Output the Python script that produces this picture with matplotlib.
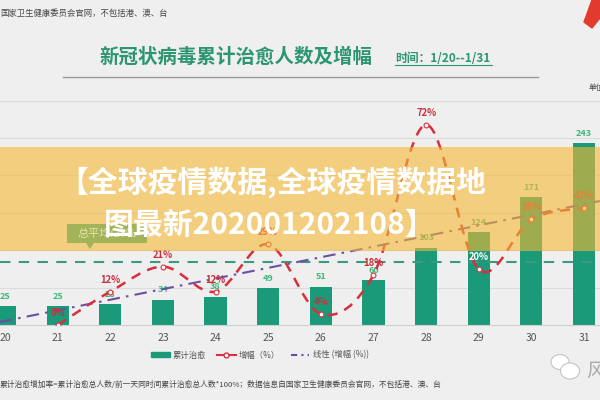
import numpy as np
import matplotlib
matplotlib.use('Agg')
import matplotlib.pyplot as plt
from matplotlib.path import Path
from matplotlib.patches import PathPatch, Rectangle, Polygon, Ellipse
from matplotlib.lines import Line2D

plt.rcParams['font.family'] = ['Noto Sans CJK SC', 'DejaVu Sans']

days = ['20', '21', '22', '23', '24', '25', '26', '27', '28', '29', '30', '31']
cured = [25, 25, 28, 34, 38, 49, 51, 60, 103, 124, 171, 243]
# growth in %, first day has no value
growth = [None, 0, 12, 21, 12, 29, 4, 18, 72, 20, 38, 42]
avg_line = 22.6
avg_label = '总平均:27%'

title = '新冠状病毒累计治愈人数及增幅'
period = '时间：1/20--1/31'
banner = ['【全球疫情数据,全球疫情数据地', '图最新202001202108】']
note = '累计治愈增加率=累计治愈总人数/前一天同时间累计治愈总人数*100%；数据信息自国家卫生健康委员会官网，不包括港、澳、台'
header = '国家卫生健康委员会官网，不包括港、澳、台'

bg = '#EFEFF0'
bar_c = '#1B9A7A'
red = '#D6303C'
purple = '#6B4FA0'
green_txt = '#2B9670'

W, H = 600, 400
fig = plt.figure(figsize=(6, 4), dpi=100, facecolor=bg)

def fx(px):
    return px / W

def fy(py):
    return 1 - py / H

ax = fig.add_axes([0, fy(325), 1, (325 - 100) / H])
ax.set_facecolor(bg)
x = np.arange(len(days))
ax.set_xlim(-0.095, 11.304)
ax.set_ylim(0, 301)
ax.set_yticks(np.arange(50, 301, 50))
ax.grid(axis='y', color='#DCDCDC', lw=0.8)
ax.set_axisbelow(True)
for s in ['top', 'left', 'right']:
    ax.spines[s].set_visible(False)
ax.spines['bottom'].set_color('#CFCFCF')
ax.set_xticks(x)
ax.set_xticklabels(days, fontsize=7.5, color='#555555')
ax.tick_params(axis='x', length=0, pad=6)
ax.tick_params(axis='y', length=0, labelleft=False)

bars = ax.bar(x, cured, width=0.42, color=bar_c, zorder=2)
for xi, v in zip(x, cured):
    ax.annotate(str(v), (xi, v), xytext=(0, 4), textcoords='offset points',
                ha='center', va='bottom', fontsize=6.5, color='#3CB878',
                fontweight='bold', zorder=5)

ax2 = ax.twinx()
ax2.set_ylim(0, 301 * 0.75 / 2.79)
ax2.axis('off')

# average reference line
ax2.axhline(avg_line, color='#3A9A80', lw=1.5, dashes=(5, 4), zorder=3)

# trend line of growth
gx = np.array([i for i, g in enumerate(growth) if g is not None])
gy = np.array([g for g in growth if g is not None], dtype=float)
k, b = np.polyfit(gx, gy, 1)
tx = np.array([-0.1, 11.3])
ax2.plot(tx, k * tx + b, color=purple, lw=1.5, dashes=(6, 3, 1.2, 3), zorder=3)

# smoothed growth curve (Catmull-Rom as Bezier path)
pts = np.column_stack([gx, gy])
verts = [pts[0]]
codes = [Path.MOVETO]
for i in range(len(pts) - 1):
    p0 = pts[i - 1] if i > 0 else pts[i]
    p1 = pts[i]
    p2 = pts[i + 1]
    p3 = pts[i + 2] if i + 2 < len(pts) else pts[i + 1]
    verts += [p1 + (p2 - p0) / 6, p2 - (p3 - p1) / 6, p2]
    codes += [Path.CURVE4] * 3
curve = PathPatch(Path(verts, codes), fill=False, edgecolor=red, lw=1.8,
                  linestyle=(0, (4, 3)), transform=ax2.transData, zorder=4)
ax2.add_patch(curve)
ax2.plot(gx, gy, 'o', ms=3.5, mfc='white', mec=red, mew=0.8, zorder=5)
for xi, g in zip(gx, gy):
    c = 'white' if xi == 9 else '#C8303C'
    ax2.annotate('%d%%' % g, (xi, g), xytext=(0, 5), textcoords='offset points',
                 ha='center', va='bottom', fontsize=6.8, color=c,
                 fontweight='bold', zorder=6)

# title block
fig.text(fx(236), fy(57), title, fontsize=14, fontweight='bold', color=green_txt,
         ha='center', va='center')
fig.text(fx(395), fy(58), period, fontsize=8.5, fontweight='bold', color=green_txt,
         ha='left', va='center')
fig.add_artist(Line2D([fx(395), fx(492)], [fy(65), fy(65)], color=green_txt, lw=0.8))
fig.add_artist(Line2D([fx(63), fx(538)], [fy(77), fy(77)], color='#9A9A9A', lw=1))
fig.text(fx(0), fy(13), header, fontsize=6, color='#444444', ha='left', va='center')
fig.text(fx(589), fy(88), '单位：人', fontsize=5.5, color='#444444', ha='left', va='center')
fig.add_artist(Polygon([[fx(600), fy(0)], [fx(592), fy(0)], [fx(584), fy(22)],
                        [fx(592), fy(28)], [fx(600), fy(18)]],
                       closed=True, color='#E23A2E'))

# legend
handles = [Rectangle((0, 0), 1, 1, color=bar_c),
           Line2D([0], [0], color=red, lw=1.5, marker='o', ms=3.5, mfc='white', mec=red),
           Line2D([0], [0], color=purple, lw=1.5, dashes=(3, 2, 1, 2))]
fig.legend(handles, ['累计治愈', '增幅（%）', '线性 (增幅 (%))'], loc='center',
           bbox_to_anchor=(fx(260), fy(355)), ncol=3, frameon=False, fontsize=6,
           handlelength=2.2, handleheight=0.5, columnspacing=1.3, handletextpad=0.4,
           labelcolor='#555555')

fig.text(fx(0), fy(385), note, fontsize=5.6, color='#444444', ha='left', va='center')

# watermark
for cx, cy, w, h in [(560, 362, 18, 15), (570, 371, 19, 16)]:
    fig.add_artist(Ellipse((fx(cx), fy(cy)), fx(w), h / H, facecolor='white',
                           edgecolor='#C4C4C4', lw=0.8))
fig.text(fx(586), fy(371), '风', fontsize=14, color='#AAAAAA', ha='left', va='center')

# overlay banner
fig.add_artist(Rectangle((0, fy(251)), 1, (251 - 147) / H, facecolor='#F6B833',
                         alpha=0.6, edgecolor='none', zorder=10))
box = Rectangle((fx(67), fy(243)), fx(80), 19 / H, facecolor='#A2B35A',
                edgecolor='none', zorder=11)
fig.add_artist(box)
fig.add_artist(Polygon([[fx(86), fy(243)], [fx(94), fy(243)], [fx(90), fy(249)]],
                       closed=True, facecolor='#A2B35A', edgecolor='none', zorder=11))
fig.text(fx(107), fy(234), avg_label, fontsize=8, color='#E6E2A8', ha='center',
         va='center', zorder=12)
fig.text(fx(272), fy(183), banner[0], fontsize=21.5, fontweight='bold', color='white',
         ha='center', va='center', zorder=12)
fig.text(fx(270), fy(225), banner[1], fontsize=21.5, fontweight='bold', color='white',
         ha='center', va='center', zorder=12)

fig.savefig('out.png', dpi=100, facecolor=bg)
